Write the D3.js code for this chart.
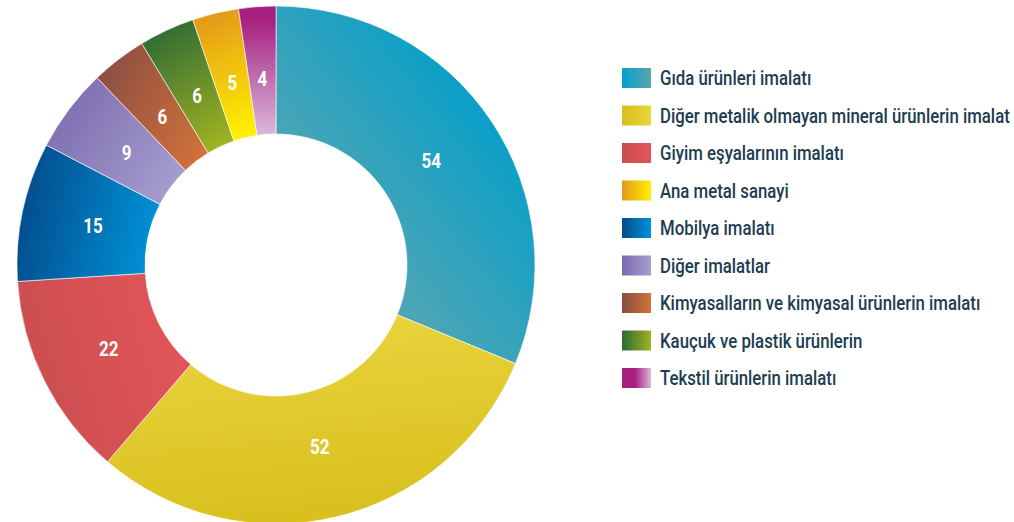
<!DOCTYPE html>
<html>
<head>
<meta charset="utf-8">
<script src="https://cdn.jsdelivr.net/npm/d3@7"></script>
<style>
  body { margin: 0; background: #fff; }
  svg { display: block; }
  text { font-family: "Roboto", "DejaVu Sans", sans-serif; }
</style>
</head>
<body>
<div id="chart"></div>
<script>
//Dimensions
const width = 1014;
const height = 522;

//Data: slices in drawing order (clockwise from 12 o'clock)
const sliceNames = ["Gıda ürünleri imalatı", "Diğer metalik olmayan mineral ürünlerin imalat", "Giyim eşyalarının imalatı", "Mobilya imalatı", "Diğer imalatlar", "Kimyasalların ve kimyasal ürünlerin imalatı", "Kauçuk ve plastik ürünlerin", "Ana metal sanayi", "Tekstil ürünlerin imalatı"];
const sliceValues = [54, 52, 22, 15, 9, 6, 6, 5, 4];

//Legend order
const legendNames = ["Gıda ürünleri imalatı", "Diğer metalik olmayan mineral ürünlerin imalat", "Giyim eşyalarının imalatı", "Ana metal sanayi", "Mobilya imalatı", "Diğer imalatlar", "Kimyasalların ve kimyasal ürünlerin imalatı", "Kauçuk ve plastik ürünlerin", "Tekstil ürünlerin imalatı"];

//Gradient colour pairs for each category
const colorStart = ["#049fca", "#ead43e", "#e4555a", "#034b8b", "#7a6bb0", "#8a4d43", "#2d6a35", "#e3981a", "#a6207f"];
const colorEnd = ["#5ca6b0", "#d7bf1c", "#c84d4f", "#0092d8", "#a79ecd", "#d2713a", "#a0b222", "#fff000", "#dbb9dc"];

//Slice gradient directions (bounding box units)
const gradDir = [[0.85, 0.25, 0.3, 0.85], [0.4, 0, 0.6, 1], [1, 0.3, 0, 0.6], [0, 0.4, 1, 0.6], [0, 0.2, 1, 0.8], [0, 0.2, 1, 0.8], [0.3, 0, 0.7, 1], [0.4, 0, 0.6, 1], [0.5, 0.1, 0.5, 1]];

const cx = 276, cy = 265;
const outerR = 259, innerR = 131, labelR = 187;
const squeeze = 0.84; // condensed look for the text

const svg = d3.select("#chart").append("svg").attr("width", width).attr("height", height);
const defs = svg.append("defs");

//Gradients for slices
sliceNames.forEach((n, i) => {
    const g = defs.append("linearGradient").attr("id", "slice" + i)
        .attr("x1", gradDir[i][0]).attr("y1", gradDir[i][1]).attr("x2", gradDir[i][2]).attr("y2", gradDir[i][3]);
    g.append("stop").attr("offset", "0%").attr("stop-color", colorStart[i]);
    g.append("stop").attr("offset", "100%").attr("stop-color", colorEnd[i]);
});

const pie = d3.pie().sort(null).value(d => d)(sliceValues);
const arc = d3.arc().innerRadius(innerR).outerRadius(outerR);
const labelArc = d3.arc().innerRadius(labelR).outerRadius(labelR);

const g = svg.append("g").attr("transform", `translate(${cx},${cy})`);

g.selectAll("path").data(pie).enter().append("path")
    .attr("d", arc)
    .attr("fill", (d, i) => `url(#slice${i})`)
    .attr("stroke", "#fff")
    .attr("stroke-width", 0.6);

g.selectAll("text").data(pie).enter().append("text")
    .attr("transform", d => `translate(${labelArc.centroid(d)}) scale(0.85,1)`)
    .attr("text-anchor", "middle")
    .attr("dy", "0.36em")
    .attr("fill", "#fff")
    .style("font-size", "20px")
    .style("font-weight", "bold")
    .text(d => d.data);

//Legend: horizontal gradients
legendNames.forEach((n, i) => {
    const k = sliceNames.indexOf(n);
    const lg = defs.append("linearGradient").attr("id", "leg" + i).attr("x1", 0).attr("x2", 1).attr("y1", 0).attr("y2", 0);
    const left = (k === 1 || k === 2) ? colorEnd[k] : colorStart[k];
    const right = (k === 1 || k === 2) ? colorStart[k] : colorEnd[k];
    lg.append("stop").attr("offset", "0%").attr("stop-color", left);
    lg.append("stop").attr("offset", k === 8 ? "45%" : "0%").attr("stop-color", left);
    lg.append("stop").attr("offset", "100%").attr("stop-color", right);
});

const y = d3.scalePoint().domain(legendNames).range([78, 378]);

const legend = svg.append("g").selectAll("g").data(legendNames).enter().append("g")
    .attr("transform", d => `translate(622,${y(d)})`);

legend.append("rect")
    .attr("x", 0).attr("y", -10)
    .attr("width", 29).attr("height", 20)
    .attr("fill", (d, i) => `url(#leg${i})`);

legend.append("text")
    .attr("transform", `translate(38,0) scale(${squeeze},1)`)
    .attr("dy", "0.36em")
    .attr("fill", "#203c50")
    .style("font-size", "20px")
    .style("font-weight", 500)
    .text(d => d);
</script>
</body>
</html>
